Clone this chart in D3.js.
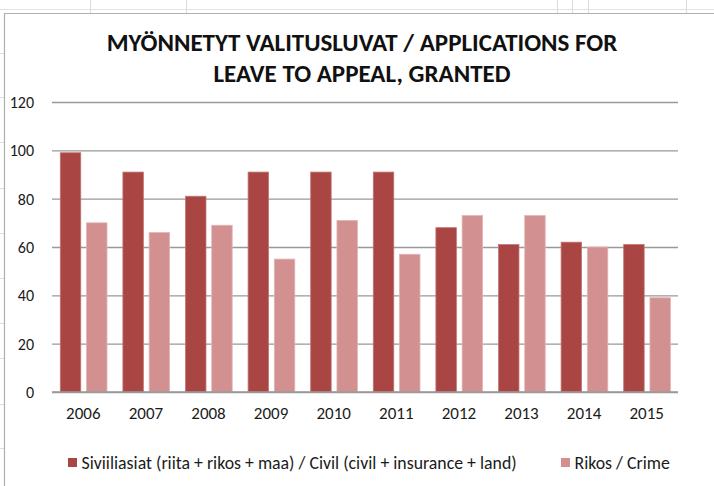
<!DOCTYPE html>
<html><head><meta charset="utf-8">
<script src="https://cdn.jsdelivr.net/npm/d3@7"></script>
<style>
html,body{margin:0;padding:0;background:#fff;}
svg{display:block;}
</style></head>
<body>
<svg id="chart" width="714" height="486"></svg>
<script>
const years = ["2006","2007","2008","2009","2010","2011","2012","2013","2014","2015"];
const civil = [99, 91, 81, 91, 91, 91, 68, 61, 62, 61];
const crime = [70, 66, 69, 55, 71, 57, 73, 73, 60, 39];
const seriesNames = ["Siviiliasiat (riita + rikos + maa) / Civil (civil + insurance + land)", "Rikos / Crime"];
const seriesColors = ["#A94644", "#D29190"];
const yTicks = [0, 20, 40, 60, 80, 100, 120];
const titleLines = ["MYÖNNETYT VALITUSLUVAT / APPLICATIONS FOR", "LEAVE TO APPEAL, GRANTED"];

const font = "Carlito, Lato, 'Open Sans', sans-serif";
const svg = d3.select("#chart");

// spreadsheet background bits
const bg = svg.append("g");
bg.append("line").attr("x1",0).attr("x2",714).attr("y1",9.5).attr("y2",9.5).attr("stroke","#e2e2e2");
[90,186,557,572,588,686].forEach(x=>bg.append("line").attr("x1",x+0.5).attr("x2",x+0.5).attr("y1",0).attr("y2",13).attr("stroke","#dcdcdc"));
[53,97,142,188,233,278,323,358,404,448].forEach(y=>bg.append("line").attr("x1",0).attr("x2",4).attr("y1",y+0.5).attr("y2",y+0.5).attr("stroke","#dcdcdc"));
// chart area border
svg.append("path").attr("d","M4.5,486V13.5H714").attr("fill","none").attr("stroke","#b0b0b0").attr("stroke-width",1.2);

const margin = {left:52, right:36, top:102, bottom:94};
const W = 714, H = 486;
const x0 = d3.scaleBand().domain(years).range([margin.left, W - margin.right]).padding(0);
const inner = d3.scaleBand().domain([0,1]).range([8.3, x0.bandwidth() - 7.6]).paddingInner(0.22);
const y = d3.scaleLinear().domain([0,120]).range([H - margin.bottom, margin.top]);

// gridlines
const yAxis = d3.axisLeft(y).tickValues(yTicks).tickSize(-(W - margin.left - margin.right)).tickPadding(18).tickFormat(d3.format("d"));
const gy = svg.append("g").attr("transform",`translate(${margin.left},0)`).call(yAxis);
gy.select(".domain").remove();
gy.selectAll(".tick line").attr("stroke","#999").attr("stroke-width",1.3);
gy.selectAll(".tick text").attr("font-family",font).attr("font-size",16).attr("fill","#1a1a1a").attr("dy","0.35em");

// bars
const groups = svg.append("g").selectAll("g").data(years).join("g")
  .attr("transform", d => `translate(${x0(d)},0)`);
groups.selectAll("rect").data((d,i)=>[civil[i], crime[i]]).join("rect")
  .attr("x",(d,j)=>inner(j))
  .attr("width", inner.bandwidth())
  .attr("y", d=>y(d))
  .attr("height", d=>y(0)-y(d))
  .attr("fill",(d,j)=>seriesColors[j])
  .attr("stroke",(d,j)=> j===0 ? "#c27473" : "#e2b5b4")
  .attr("stroke-width",0.8);

// baseline
svg.append("line").attr("x1",margin.left).attr("x2",W-margin.right).attr("y1",y(0)).attr("y2",y(0)).attr("stroke","#999").attr("stroke-width",1.3);

// x axis labels
const xAxis = d3.axisBottom(x0).tickSize(0).tickPadding(15);
const gx = svg.append("g").attr("transform",`translate(0,${y(0)})`).call(xAxis);
gx.select(".domain").remove();
gx.selectAll(".tick text").attr("font-family",font).attr("font-size",17).attr("fill","#1a1a1a");

// title
svg.append("g").selectAll("text").data(titleLines).join("text")
  .attr("x",362).attr("y",(d,i)=>51 + i*31)
  .attr("text-anchor","middle")
  .attr("font-family",font).attr("font-weight","bold").attr("font-size",25)
  .attr("fill","#111")
  .text(d=>d);

// legend
const legendX = [68, 561];
const lg = svg.append("g").selectAll("g").data(seriesNames).join("g")
  .attr("transform",(d,i)=>`translate(${legendX[i]},458)`);
lg.append("rect").attr("width",9).attr("height",9).attr("fill",(d,i)=>seriesColors[i]);
lg.append("text").attr("x",13.5).attr("y",10.5).attr("font-family",font).attr("font-size",17.8).attr("fill","#1a1a1a").text(d=>d);
</script>
</body></html>
